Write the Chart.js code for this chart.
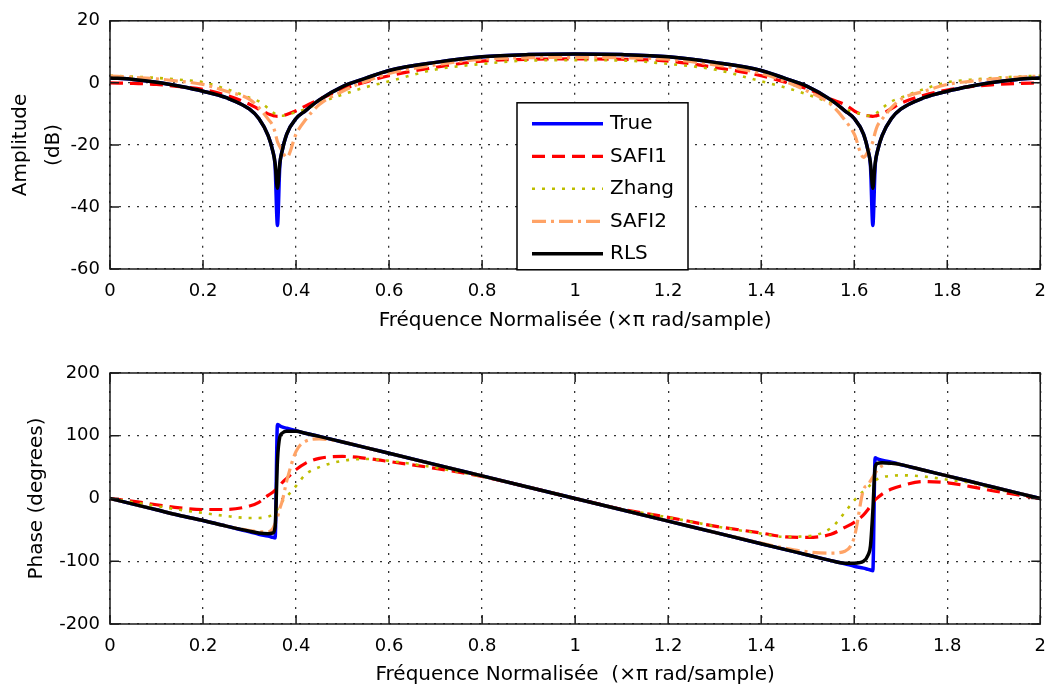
<!DOCTYPE html>
<html>
<head>
<meta charset="utf-8">
<script src="https://cdn.jsdelivr.net/npm/chart.js"></script>
<style>
  html, body { margin: 0; padding: 0; background: #fff; }
  #wrap { position: relative; width: 1058px; height: 689px; }
  canvas { position: absolute; left: 0; }
  #amp { top: 0; }
  #phase { top: 345px; }
</style>
</head>
<body>
<div id="wrap">
  <canvas id="amp" width="1058" height="345"></canvas>
  <canvas id="phase" width="1058" height="344"></canvas>
</div>
<script>
// normalised frequency (x pi rad/sample), denser around the two notches
const freq = [0, 0.05, 0.1, 0.15, 0.2, 0.25, 0.3, 0.32, 0.34, 0.35, 0.355, 0.36, 0.365, 0.37, 0.38, 0.4, 0.42, 0.45, 0.5, 0.55, 0.6, 0.7, 0.8, 0.9, 1.0,
  1.1, 1.2, 1.3, 1.4, 1.45, 1.5, 1.55, 1.58, 1.6, 1.62, 1.63, 1.635, 1.64, 1.645, 1.65, 1.66, 1.68, 1.7, 1.75, 1.8, 1.85, 1.9, 1.95, 2.0];

const seriesNames = ['True', 'SAFI1', 'Zhang', 'SAFI2', 'RLS'];

// amplitude (dB)
const ampTrue = [1.6, 1.1, 0.2, -1.1, -2.7, -4.8, -8.5, -11.5, -17, -22, -27, -46, -27, -22, -16.5, -11.5, -9, -5.5, -1.2, 1.5, 4.0, 6.6, 8.4, 9.1, 9.3,
  9.1, 8.4, 6.6, 4.0, 1.5, -1.2, -5.5, -9, -11.5, -16.5, -22, -27, -46, -27, -22, -17, -11.5, -8.5, -4.8, -2.7, -1.1, 0.2, 1.1, 1.6];
const ampSafi1 = [0, -0.2, -0.5, -1.2, -2.1, -4.0, -6.9, -8.5, -10.0, -10.5, -10.7, -10.8, -10.8, -10.7, -10.2, -9.0, -7.5, -5.3, -2.0, 0.3, 2.3, 5.0, 7.0, 7.6, 7.7,
  7.6, 7.0, 5.0, 2.3, 0.3, -2.0, -5.3, -7.0, -9.0, -10.4, -10.6, -10.7, -10.8, -10.7, -10.5, -10.0, -8.3, -6.6, -4.0, -2.3, -1.2, -0.6, -0.2, 0];
const ampZhang = [2.3, 2.0, 1.6, 1.0, 0.2, -2.0, -4.8, -6.0, -8.2, -9.5, -10.0, -10.4, -10.6, -10.6, -10.2, -9.5, -8.5, -6.5, -3.8, -1.4, 0.5, 4.3, 6.1, 7.2, 7.3,
  7.2, 6.1, 4.3, 0.5, -1.4, -3.8, -6.5, -8.5, -9.5, -10.2, -10.6, -10.6, -10.4, -10.0, -9.5, -8.2, -6.0, -4.8, -2.0, 0.2, 1.0, 1.6, 2.0, 2.3];
const ampSafi2 = [2.2, 1.8, 1.3, 0.5, -0.5, -2.7, -5.3, -8, -11.7, -13.8, -16, -19, -20.5, -22, -24, -16.5, -12, -7, -2.7, 0.5, 3.0, 5.8, 7.6, 8.1, 8.2,
  8.1, 7.6, 5.8, 3.0, 0.5, -2.7, -7, -12, -16.5, -24, -22, -20.5, -19, -16, -13.8, -11.7, -8, -5.3, -2.7, -0.5, 0.5, 1.3, 1.8, 2.2];
const ampRls = [1.6, 1.1, 0.2, -1.1, -2.7, -4.8, -8.5, -11.5, -17, -22, -26, -34, -26, -22, -16.5, -11.5, -9, -5.5, -1.2, 1.5, 4.0, 6.6, 8.4, 9.1, 9.3,
  9.1, 8.4, 6.6, 4.0, 1.5, -1.2, -5.5, -9, -11.5, -16.5, -22, -26, -34, -26, -22, -17, -11.5, -8.5, -4.8, -2.7, -1.1, 0.2, 1.1, 1.6];

// phase (degrees)
const phTrue = [0, -9, -18, -27, -35, -44, -53, -57, -60, -62, -63, 118, 116, 114, 112, 108, 104, 99, 90, 81, 72, 54, 36, 18, 0,
  -18, -36, -54, -72, -81, -90, -99, -104, -108, -111, -113, -114, -115, 65, 63, 61, 58, 54, 45, 36, 27, 18, 9, 0];
const phSafi1 = [0, -4.5, -10, -15, -17.5, -17.5, -12, -6, 5, 10, 13, 16, 20, 25, 32, 46, 56, 64, 67, 64, 59, 48, 35, 18, 0,
  -17, -30, -44, -55, -61, -62, -57, -46, -38, -26, -17, -12, -7, -2, 1, 7, 15, 20, 27, 25, 19, 12, 6, 0];
const phZhang = [0, -6, -12, -18, -23, -28, -31, -31, -29, -25, -22, -17, -10, -5, 3, 20, 38, 50, 60, 63, 60, 49, 35, 18, 0,
  -17, -30, -44, -56, -61, -60, -47, -22, -3, 12, 18, 22, 26, 29, 31, 34, 36, 37, 35, 30, 25, 16, 8, 0];
const phSafi2 = [0, -9, -18, -27, -35, -44, -51, -53, -53, -48, -40, -30, -16, -5, 28, 75, 91, 95, 90, 81, 72, 54, 36, 18, 0,
  -18, -36, -54, -71, -79, -85, -87, -84, -62, 14, 22, 28, 34, 40, 46, 52, 56, 54, 45, 36, 27, 18, 9, 0];
const phRls = [0, -9, -18, -27, -35, -44, -52, -55, -56, -55, -45, 60, 98, 104, 107, 107, 104, 99, 90, 81, 72, 54, 36, 18, 0,
  -18, -36, -54, -72, -81, -90, -99, -103, -103, -100, -90, -75, -20, 50, 56, 57, 56, 54, 45, 36, 27, 18, 9, 0];

const ampTicks = { min: -60, max: 20, step: 20 };
const phTicks = { min: -200, max: 200, step: 100 };

Chart.defaults.font.family = '"DejaVu Sans", sans-serif';
Chart.defaults.color = '#000';

const styles = [
  { color: '#0000ff', width: 3.5, dash: [], order: 5 },
  { color: '#ff0000', width: 3.2, dash: [13, 7], order: 4 },
  { color: '#bdbd00', width: 2.6, dash: [3, 7], order: 3 },
  { color: '#ffa366', width: 3.2, dash: [14, 5, 3, 5], order: 2 },
  { color: '#000000', width: 3.5, dash: [], order: 1 }
];

function makeDatasets(seriesList) {
  return seriesList.map((vals, i) => ({
    label: seriesNames[i],
    data: freq.map((f, j) => ({ x: f, y: vals[j] })),
    borderColor: styles[i].color,
    backgroundColor: styles[i].color,
    borderWidth: styles[i].width,
    borderDash: styles[i].dash,
    order: styles[i].order,
    pointRadius: 0,
    cubicInterpolationMode: 'monotone',
    fill: false
  }));
}

const framePlugin = {
  id: 'frame',
  afterDatasetsDraw(chart) {
    const { ctx, chartArea: a, scales } = chart;
    const len = 9;
    ctx.save();
    ctx.strokeStyle = '#1a1a1a';
    ctx.lineWidth = 1.5;
    ctx.setLineDash([]);
    ctx.strokeRect(a.left, a.top, a.right - a.left, a.bottom - a.top);
    ctx.beginPath();
    scales.x.ticks.forEach(t => {
      const px = scales.x.getPixelForValue(t.value);
      ctx.moveTo(px, a.bottom); ctx.lineTo(px, a.bottom - len);
      ctx.moveTo(px, a.top); ctx.lineTo(px, a.top + len);
    });
    scales.y.ticks.forEach(t => {
      const py = scales.y.getPixelForValue(t.value);
      ctx.moveTo(a.left, py); ctx.lineTo(a.left + len, py);
      ctx.moveTo(a.right, py); ctx.lineTo(a.right - len, py);
    });
    ctx.stroke();
    ctx.restore();
  }
};

const boxLegend = {
  id: 'boxLegend',
  afterDraw(chart) {
    const { ctx, chartArea: a } = chart;
    const left = a.left + 407, top = a.top + 82, w = 171, h = 167;
    ctx.save();
    ctx.fillStyle = '#fff';
    ctx.fillRect(left, top, w, h);
    ctx.strokeStyle = '#000';
    ctx.lineWidth = 1.5;
    ctx.setLineDash([]);
    ctx.strokeRect(left, top, w, h);
    ctx.font = '20px "DejaVu Sans"';
    ctx.textBaseline = 'middle';
    chart.data.datasets.forEach((ds, i) => {
      const y = top + 21 + i * 32.5;
      ctx.setLineDash(ds.borderDash || []);
      ctx.strokeStyle = ds.borderColor;
      ctx.lineWidth = ds.borderWidth;
      ctx.beginPath();
      ctx.moveTo(left + 15, y);
      ctx.lineTo(left + 86, y);
      ctx.stroke();
      ctx.setLineDash([]);
      ctx.fillStyle = '#000';
      ctx.fillText(ds.label, left + 93, y);
    });
    ctx.restore();
  }
};

function makeScales(yt, yTitle, yTitlePad, yLineHeight, xTitle, xTitlePad, xHeight) {
  return {
    x: {
      type: 'linear', min: 0, max: 2,
      afterFit: s => { s.height = xHeight; },
      ticks: { stepSize: 0.2, padding: 12, font: { size: 18 }, maxRotation: 0, autoSkip: false,
        callback: v => String(Math.round(v * 10) / 10) },
      grid: { color: '#333', lineWidth: 1.3, drawTicks: false },
      border: { display: false, dash: [2, 7] },
      title: { display: true, text: xTitle, font: { size: 20 }, padding: { top: 0, bottom: xTitlePad } }
    },
    y: {
      min: yt.min, max: yt.max,
      afterFit: s => { s.width = 110; },
      ticks: { stepSize: yt.step, padding: 10, font: { size: 18 } },
      grid: { color: '#333', lineWidth: 1.3, drawTicks: false },
      border: { display: false, dash: [2, 7] },
      title: { display: true, text: yTitle, font: { size: 20, lineHeight: yLineHeight }, padding: { top: yTitlePad, bottom: 0 } }
    }
  };
}

function baseOptions(scales) {
  return {
    responsive: false,
    animation: false,
    devicePixelRatio: 1,
    plugins: { legend: { display: false }, tooltip: { enabled: false } },
    scales: scales
  };
}

const ampChart = new Chart(document.getElementById('amp'), {
  type: 'line',
  data: { datasets: makeDatasets([ampTrue, ampSafi1, ampZhang, ampSafi2, ampRls]) },
  options: Object.assign(baseOptions(makeScales(ampTicks, ['Amplitude', '(dB)'], 4, 1.65,
    'Fréquence Normalisée (×π rad/sample)', 12, 76)), { layout: { padding: { top: 18, right: 10, left: 0, bottom: 0 } } }),
  plugins: [framePlugin, boxLegend]
});

const phaseChart = new Chart(document.getElementById('phase'), {
  type: 'line',
  data: { datasets: makeDatasets([phTrue, phSafi1, phZhang, phSafi2, phRls]) },
  options: Object.assign(baseOptions(makeScales(phTicks, 'Phase (degrees)', 25, 1.2,
    'Fréquence Normalisée  (×π rad/sample)', 2, 65)), { layout: { padding: { top: 28, right: 10, left: 0, bottom: 0 } } }),
  plugins: [framePlugin]
});
</script>
</body>
</html>
